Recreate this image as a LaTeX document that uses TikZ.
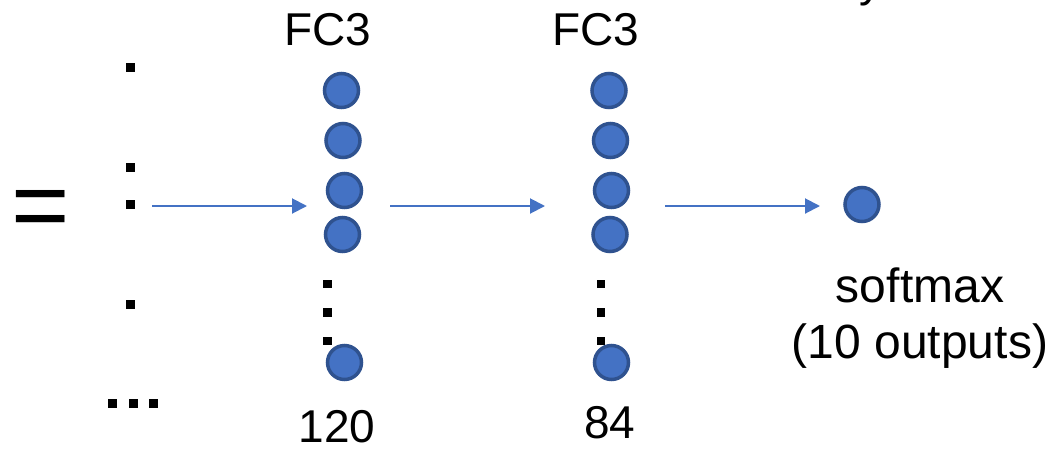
\documentclass[tikz,border=0pt]{standalone}
\usepackage{fontspec}
\setmainfont{Liberation Sans}
\usetikzlibrary{arrows.meta}
\definecolor{nodefill}{HTML}{4472C4}
\definecolor{nodeedge}{HTML}{2F528F}
\definecolor{linkblue}{HTML}{4472C4}
\begin{document}
\begin{tikzpicture}[x=1pt,y=-1pt,
  neuron/.style={circle,fill=nodefill,draw=nodeedge,line width=3.5pt,minimum size=34pt,inner sep=0pt},
  dotmark/.style={rectangle,fill=black,minimum size=9pt,inner sep=0pt},
  smalldot/.style={rectangle,fill=black,minimum size=8.5pt,inner sep=0pt},
  label/.style={inner sep=0pt,anchor=base,font=\fontsize{46}{56}\selectfont},
  biglabel/.style={inner sep=0pt,anchor=base,align=center,font=\fontsize{48}{56}\selectfont},
  link/.style={draw=linkblue,line width=2pt,-{Triangle[length=15pt,width=15pt]}}]
\useasboundingbox (0,0) rectangle (1053,448);

% equals sign
\node[inner sep=0pt,anchor=base west,font=\fontsize{100}{100}\selectfont] (eq) at (11.7,239.5) {=};

% flattened input column
\node[dotmark] (in1) at (130.5,67) {};
\node[dotmark] (in2) at (130.5,167) {};
\node[dotmark] (in3) at (130.5,204) {};
\node[dotmark] (in4) at (130.5,304) {};
\node[dotmark] (e1) at (112.5,403.5) {};
\node[dotmark] (e2) at (133,403.5) {};
\node[dotmark] (e3) at (153.5,403.5) {};

% first fully connected layer
\node[label] (fc1) at (328,45) {FC3};
\node[neuron] (a1) at (341.5,90.5) {};
\node[neuron] (a2) at (343,140.5) {};
\node[neuron] (a3) at (344.5,190.5) {};
\node[neuron] (a4) at (342.5,234.5) {};
\node[smalldot] (ad1) at (327.5,284) {};
\node[smalldot] (ad2) at (327.5,312.5) {};
\node[smalldot] (ad3) at (327.5,341) {};
\node[neuron] (a5) at (344.5,362.5) {};
\node[label] (n1) at (337,442) {120};

% second fully connected layer
\node[label] (fc2) at (595.5,45) {FC3};
\node[neuron] (b1) at (609,90.5) {};
\node[neuron] (b2) at (610.5,140.5) {};
\node[neuron] (b3) at (611.5,190.5) {};
\node[neuron] (b4) at (610,234.5) {};
\node[smalldot] (bd1) at (601,284) {};
\node[smalldot] (bd2) at (601,312.5) {};
\node[smalldot] (bd3) at (601,341) {};
\node[neuron] (b5) at (611.5,362.5) {};
\node[label] (n2) at (610,438) {84};

% output unit
\node[neuron] (out) at (862,204.5) {};
\node[biglabel] (sm) at (920,358) {softmax\\(10 outputs)};

% heading fragment at the top edge
\node[inner sep=0pt,anchor=base west,font=\fontsize{46}{56}\selectfont] (hd) at (859,-3.5) {y};

% arrow end points
\coordinate (s1) at (152,206);
\coordinate (t1) at (307,206);
\coordinate (s2) at (390,206);
\coordinate (t2) at (545,206);
\coordinate (s3) at (665,206);
\coordinate (t3) at (820,206);
\draw[link] (s1) -- (t1);
\draw[link] (s2) -- (t2);
\draw[link] (s3) -- (t3);
\end{tikzpicture}
\end{document}
